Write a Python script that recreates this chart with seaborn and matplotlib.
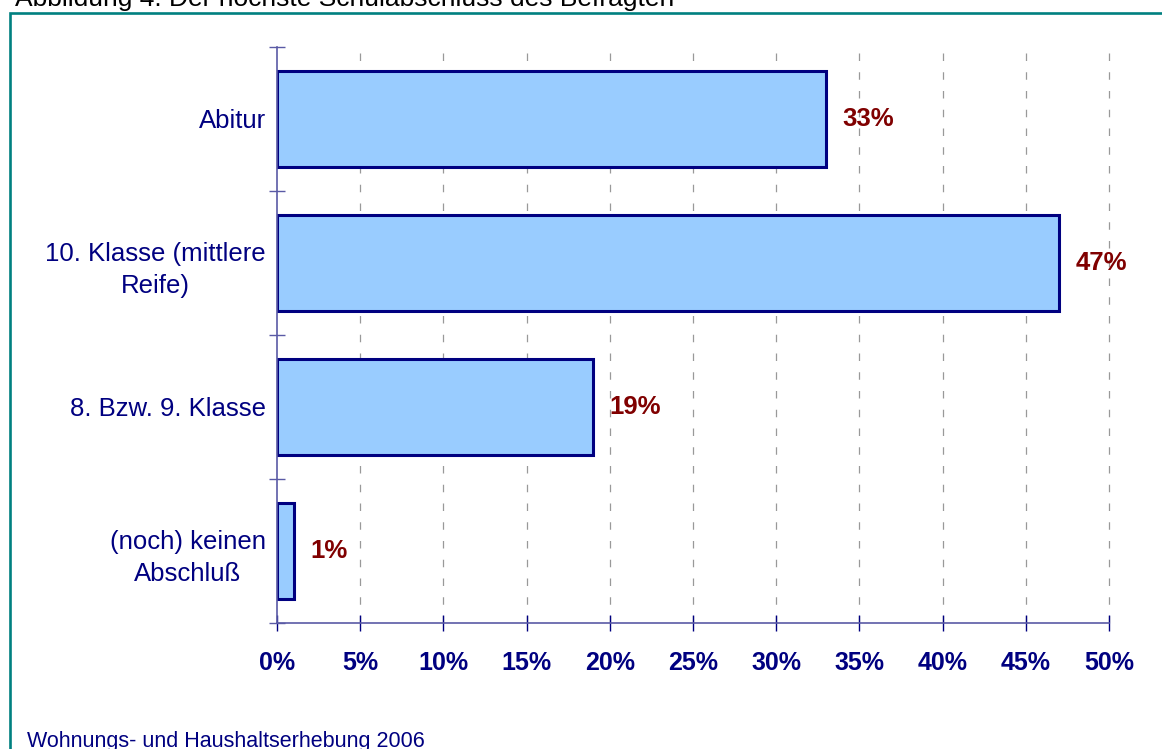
import matplotlib
matplotlib.use("Agg")
import matplotlib.pyplot as plt
import seaborn as sns
import pandas as pd
from matplotlib.patches import Rectangle
from matplotlib.ticker import FixedLocator

categories = ["Abitur", "10. Klasse (mittlere\nReife)", "8. Bzw. 9. Klasse", "(noch) keinen\nAbschluß"]
values = [33, 47, 19, 1]
value_labels = ["33%", "47%", "19%", "1%"]
x_ticks = [0, 5, 10, 15, 20, 25, 30, 35, 40, 45, 50]
x_tick_labels = ["0%", "5%", "10%", "15%", "20%", "25%", "30%", "35%", "40%", "45%", "50%"]
title = "Abbildung 4: Der höchste Schulabschluss des Befragten"
footer = "Wohnungs- und Haushaltserhebung 2006"

sns.set_theme(style="white")
plt.rcParams["font.family"] = ["Liberation Sans", "DejaVu Sans"]

W, H = 1162, 749
fig = plt.figure(figsize=(W / 100, H / 100), dpi=100)
ax = fig.add_axes([277 / W, 1 - 623 / H, (1109 - 277) / W, (623 - 47) / H])

df = pd.DataFrame({"cat": categories, "val": values})
sns.barplot(data=df, x="val", y="cat", orient="h", order=categories, color="#99CCFF",
            edgecolor="#000080", linewidth=2.2, width=0.667, saturation=1, ax=ax)

ax.set_xlim(0, 50)
ax.set_ylim(3.5, -0.5)
ax.set_xlabel("")
ax.set_ylabel("")

navy = "#000080"
axis_col = "#5a5aa5"

ax.set_xticks(x_ticks)
ax.set_xticklabels(x_tick_labels, fontsize=18, fontweight="bold", color=navy)
ax.tick_params(axis="x", direction="inout", length=12, width=1, color=navy, pad=14, bottom=True)

ax.set_yticks(range(len(categories)))
ax.set_yticklabels(categories, fontsize=18.5, color=navy, multialignment="center", linespacing=1.45)
ax.tick_params(axis="y", which="major", length=0, pad=8, left=False)
ax.yaxis.set_minor_locator(FixedLocator([-0.5, 0.5, 1.5, 2.5, 3.5]))
ax.tick_params(axis="y", which="minor", direction="inout", length=12, width=1, color=axis_col, left=True)

for s in ["top", "right"]:
    ax.spines[s].set_visible(False)
ax.spines["left"].set_color(axis_col)
ax.spines["left"].set_linewidth(1.2)
ax.spines["bottom"].set_color(axis_col)
ax.spines["bottom"].set_linewidth(1.2)

for xv in x_ticks[1:]:
    ax.axvline(xv, color="#999999", lw=0.9, linestyle=(0, (6, 9)), zorder=0, clip_on=False)

for i, (v, lab) in enumerate(zip(values, value_labels)):
    ax.annotate(lab, xy=(v, i), xytext=(12, 0), textcoords="offset points",
                ha="left", va="center", fontsize=18.5, fontweight="bold", color="#800000")

# border frame
fig.patches.append(Rectangle((10 / W, -0.1), 1.2, 1.1 - 13 / H, transform=fig.transFigure,
                             fill=False, edgecolor="#008080", linewidth=1.9, zorder=0))

fig.text(15 / W, 1 - 6 / H, title, fontsize=19, color="black", ha="left", va="baseline")
fig.text(27 / W, 2 / H, footer, fontsize=15.5, color=navy, ha="left", va="baseline")

fig.savefig("out.png", dpi=100)
